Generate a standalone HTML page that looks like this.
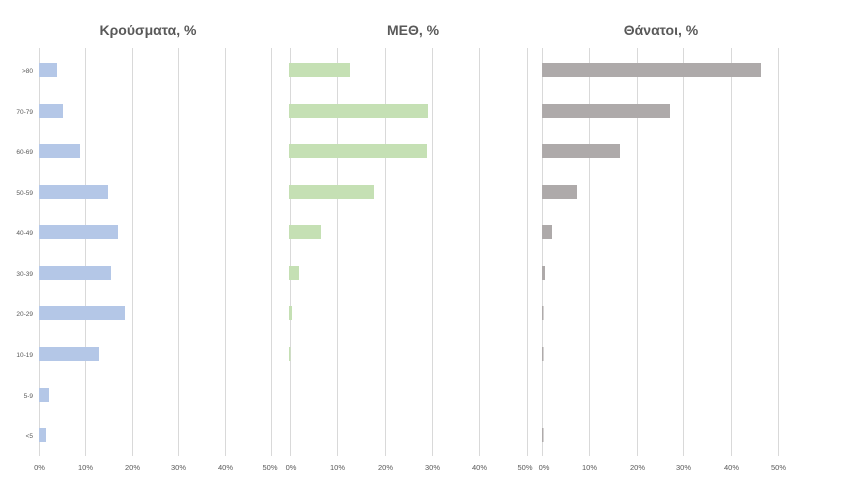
<!DOCTYPE html>
<html><head><meta charset="utf-8"><style>
html,body{margin:0;padding:0;background:#fff;}
svg{display:block;font-family:"Liberation Sans","DejaVu Sans",sans-serif;}
.t{font-size:14px;font-weight:bold;fill:#595959;text-anchor:middle;}
.a{font-size:7.5px;fill:#595959;text-anchor:middle;}
.c{font-size:6.5px;fill:#595959;text-anchor:end;}
.g line{stroke:#d9d9d9;stroke-width:1;}
</style></head><body>
<svg width="849" height="483" viewBox="0 0 849 483">
<text class="t" x="148" y="35">Κρούσματα, %</text>
<text class="t" x="413" y="35">ΜΕΘ, %</text>
<text class="t" x="661" y="35">Θάνατοι, %</text>
<g class="g">
<line x1="39.5" y1="48" x2="39.5" y2="456"/><line x1="85.5" y1="48" x2="85.5" y2="456"/><line x1="132.5" y1="48" x2="132.5" y2="456"/><line x1="178.5" y1="48" x2="178.5" y2="456"/><line x1="225.5" y1="48" x2="225.5" y2="456"/><line x1="271.5" y1="48" x2="271.5" y2="456"/>
<line x1="290.5" y1="48" x2="290.5" y2="456"/><line x1="337.5" y1="48" x2="337.5" y2="456"/><line x1="385.5" y1="48" x2="385.5" y2="456"/><line x1="432.5" y1="48" x2="432.5" y2="456"/><line x1="479.5" y1="48" x2="479.5" y2="456"/><line x1="527.5" y1="48" x2="527.5" y2="456"/>
<line x1="542.5" y1="48" x2="542.5" y2="456"/><line x1="589.5" y1="48" x2="589.5" y2="456"/><line x1="637.5" y1="48" x2="637.5" y2="456"/><line x1="683.5" y1="48" x2="683.5" y2="456"/><line x1="731.5" y1="48" x2="731.5" y2="456"/><line x1="778.5" y1="48" x2="778.5" y2="456"/>
</g>
<g class="c">
<text x="33" y="73">&gt;80</text><text x="33" y="114">70-79</text><text x="33" y="154">60-69</text><text x="33" y="195">50-59</text><text x="33" y="235">40-49</text><text x="33" y="276">30-39</text><text x="33" y="316">20-29</text><text x="33" y="357">10-19</text><text x="33" y="398">5-9</text><text x="33" y="438">&lt;5</text>
</g>
<g fill="#b4c7e7">
<rect x="39" y="63" width="18" height="14"/><rect x="39" y="104" width="24" height="14"/><rect x="39" y="144" width="41" height="14"/><rect x="39" y="185" width="69" height="14"/><rect x="39" y="225" width="79" height="14"/><rect x="39" y="266" width="72" height="14"/><rect x="39" y="306" width="86" height="14"/><rect x="39" y="347" width="60" height="14"/><rect x="39" y="388" width="10" height="14"/><rect x="39" y="428" width="7" height="14"/>
</g>
<g fill="#c5e0b4">
<rect x="289" y="63" width="61" height="14"/><rect x="289" y="104" width="139" height="14"/><rect x="289" y="144" width="138" height="14"/><rect x="289" y="185" width="85" height="14"/><rect x="289" y="225" width="32" height="14"/><rect x="289" y="266" width="10" height="14"/><rect x="289" y="306" width="3" height="14"/><rect x="289" y="347" width="1.5" height="14"/>
</g>
<g fill="#aeaaaa">
<rect x="542" y="63" width="219" height="14"/><rect x="542" y="104" width="128" height="14"/><rect x="542" y="144" width="78" height="14"/><rect x="542" y="185" width="35" height="14"/><rect x="542" y="225" width="10" height="14"/><rect x="542" y="266" width="3" height="14"/><rect x="542" y="306" width="1.5" height="14"/><rect x="542" y="347" width="1.5" height="14"/><rect x="542" y="428" width="1.5" height="14"/>
</g>
<g class="a">
<text x="39.5" y="470">0%</text><text x="85.5" y="470">10%</text><text x="132.5" y="470">20%</text><text x="178.5" y="470">30%</text><text x="225.5" y="470">40%</text><text x="270" y="470">50%</text>
<text x="291" y="470">0%</text><text x="337.5" y="470">10%</text><text x="385.5" y="470">20%</text><text x="432.5" y="470">30%</text><text x="479.5" y="470">40%</text><text x="525" y="470">50%</text>
<text x="544" y="470">0%</text><text x="589.5" y="470">10%</text><text x="637.5" y="470">20%</text><text x="683.5" y="470">30%</text><text x="731.5" y="470">40%</text><text x="778.5" y="470">50%</text>
</g>
</svg>
</body></html>
